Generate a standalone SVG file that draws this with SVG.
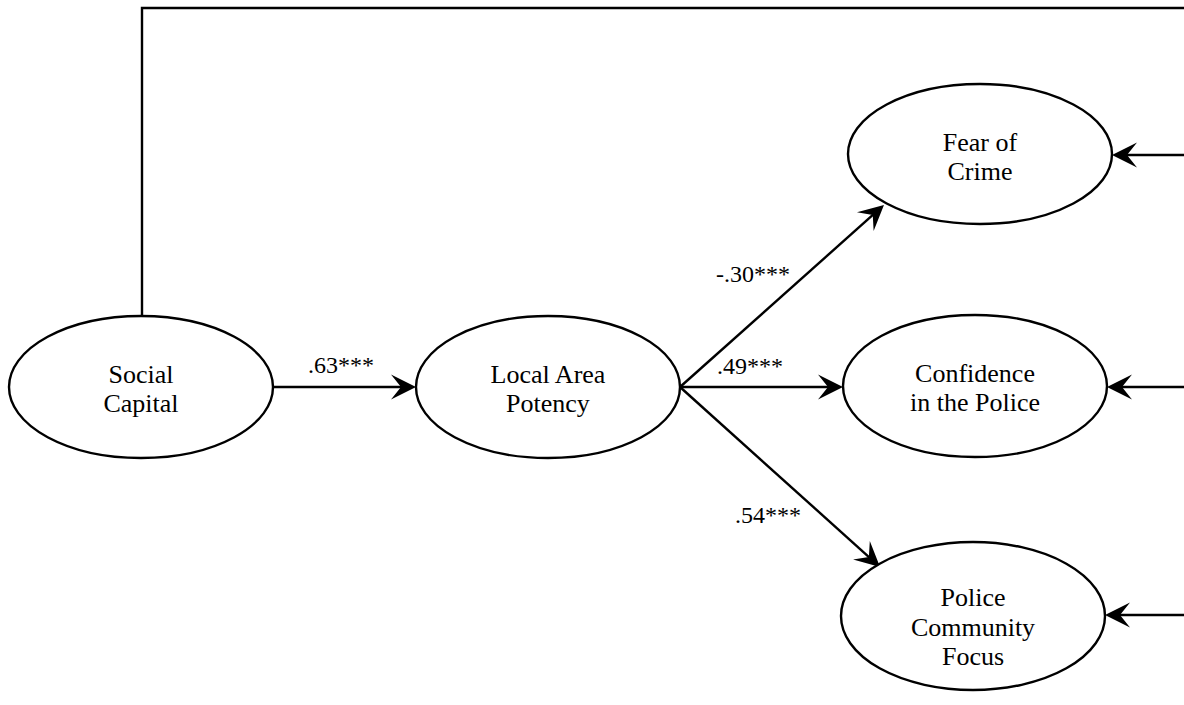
<svg xmlns="http://www.w3.org/2000/svg" width="1184" height="705" viewBox="0 0 1184 705">
<style>
.node ellipse{fill:#fff;stroke:#000;stroke-width:2.4}
.node text{font-family:"Liberation Serif","Times New Roman",serif;font-size:26px;fill:#000;text-anchor:middle}
.edge{fill:none;stroke:#000;stroke-width:2.4}
.lbl{font-family:"Liberation Serif","Times New Roman",serif;font-size:24px;fill:#000}
</style>
<defs>
<marker id="arr" markerUnits="userSpaceOnUse" viewBox="-36 -14 38 28" markerWidth="38" markerHeight="28" refX="-10" refY="0" orient="auto">
<path d="M0,0 L-25,-12.5 L-15,0 L-25,12.5 Z" fill="#000"/>
</marker>
</defs>
<rect width="1184" height="705" fill="#fff"/>
<g id="connectors">
<polyline class="edge" points="142,316 142,8 1184,8"/>
<line class="edge" x1="274" y1="387" x2="406" y2="387" marker-end="url(#arr)"/>
<line class="edge" x1="680" y1="387" x2="876.5" y2="211.7" marker-end="url(#arr)"/>
<line class="edge" x1="680" y1="387" x2="833" y2="387" marker-end="url(#arr)"/>
<line class="edge" x1="680" y1="387" x2="872.6" y2="560.3" marker-end="url(#arr)"/>
<line class="edge" x1="1184" y1="155" x2="1122" y2="155" marker-end="url(#arr)"/>
<line class="edge" x1="1184" y1="387" x2="1117" y2="387" marker-end="url(#arr)"/>
<line class="edge" x1="1184" y1="615" x2="1115" y2="615" marker-end="url(#arr)"/>
<text class="lbl" x="308" y="373">.63***</text>
<text class="lbl" x="716" y="282">-.30***</text>
<text class="lbl" x="717" y="374">.49***</text>
<text class="lbl" x="735" y="523">.54***</text>
</g>
<g id="social-capital" class="node">
<ellipse cx="141" cy="387" rx="132" ry="71"/>
<text x="141" y="383">Social</text>
<text x="141" y="412">Capital</text>
</g>
<g id="local-area-potency" class="node">
<ellipse cx="548" cy="387" rx="132" ry="71"/>
<text x="548" y="383">Local Area</text>
<text x="548" y="412">Potency</text>
</g>
<g id="fear-of-crime" class="node">
<ellipse cx="980" cy="154" rx="132" ry="70"/>
<text x="980" y="151">Fear of</text>
<text x="980" y="180">Crime</text>
</g>
<g id="confidence-police" class="node">
<ellipse cx="975" cy="386" rx="132" ry="71"/>
<text x="975" y="382">Confidence</text>
<text x="975" y="411">in the Police</text>
</g>
<g id="police-community-focus" class="node">
<ellipse cx="973" cy="616" rx="132" ry="74"/>
<text x="973" y="606">Police</text>
<text x="973" y="636">Community</text>
<text x="973" y="665">Focus</text>
</g>
</svg>
